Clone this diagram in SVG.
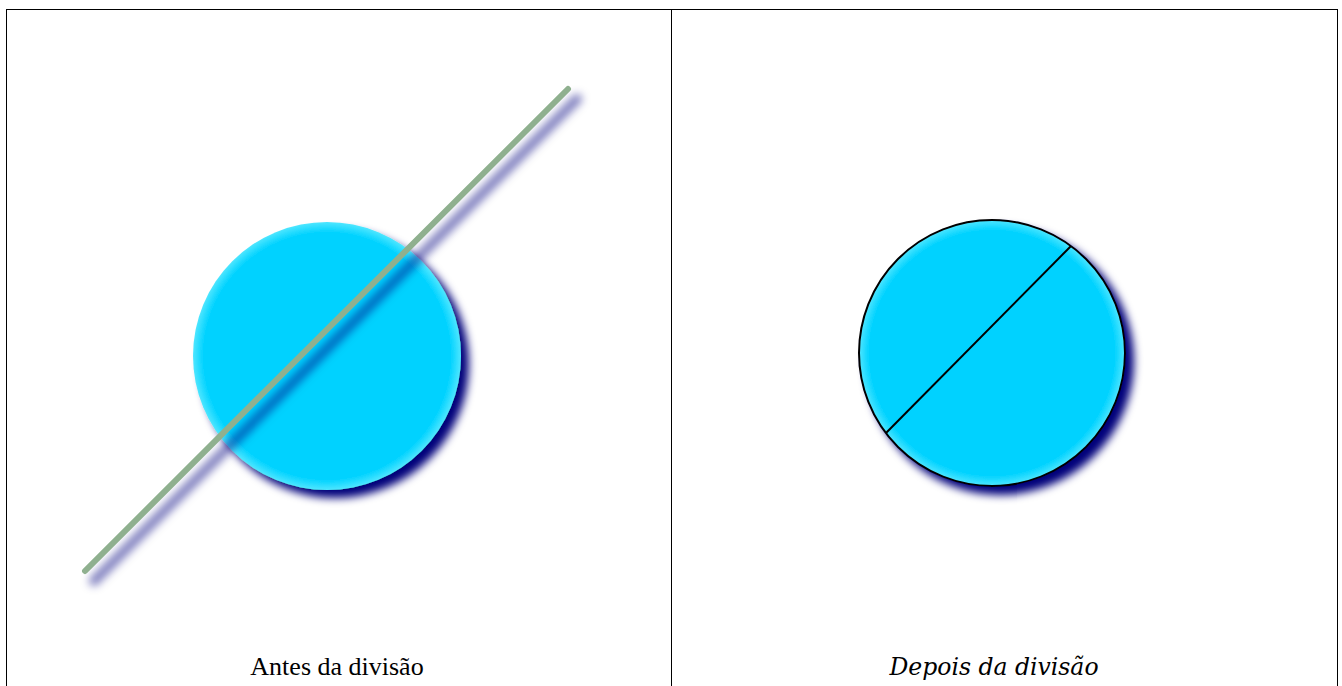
<svg xmlns="http://www.w3.org/2000/svg" width="1342" height="686" viewBox="0 0 1342 686">
  <style>
    .frame { stroke: #000; stroke-width: 1; fill: none; }
    .caption { fill: #000; text-anchor: middle; }
    .cap-left { font-family: "Liberation Serif", "Times New Roman", serif; font-size: 26px; }
    .cap-right { font-family: "DejaVu Serif", serif; font-style: italic; font-size: 23.5px; }
    .disc { fill: url(#cyanFill); filter: url(#discShadow); }
  </style>
  <defs>
    <radialGradient id="cyanFill" cx="0.5" cy="0.5" r="0.5">
      <stop offset="0" stop-color="#00d2ff"/>
      <stop offset="0.92" stop-color="#00d2ff"/>
      <stop offset="1" stop-color="#4ee6ff"/>
    </radialGradient>
    <filter id="discShadow" x="-20%" y="-20%" width="150%" height="150%">
      <feGaussianBlur in="SourceAlpha" stdDeviation="4.5" result="b"/>
      <feOffset in="b" dx="8" dy="8" result="o"/>
      <feFlood flood-color="#00007a"/>
      <feComposite in2="o" operator="in" result="s"/>
      <feMerge><feMergeNode in="s"/><feMergeNode in="SourceGraphic"/></feMerge>
    </filter>
    <filter id="lineShadow" x="-20%" y="-20%" width="140%" height="140%">
      <feGaussianBlur stdDeviation="4.5"/>
    </filter>
  </defs>

  <g id="frame">
    <line class="frame" x1="6" y1="9.5" x2="1338" y2="9.5"/>
    <line class="frame" x1="6.5" y1="9" x2="6.5" y2="686"/>
    <line class="frame" x1="671.5" y1="9" x2="671.5" y2="686"/>
    <line class="frame" x1="1337.5" y1="9" x2="1337.5" y2="686"/>
  </g>

  <g id="before">
    <circle class="disc" cx="327" cy="356" r="134"/>
    <line x1="94" y1="581" x2="577" y2="99" stroke="#000080" stroke-opacity="0.5" stroke-width="10" stroke-linecap="round" filter="url(#lineShadow)"/>
    <line x1="85" y1="571" x2="568" y2="89" stroke="#8fb08f" stroke-width="6" stroke-linecap="round"/>
    <text class="caption cap-left" x="337" y="675">Antes da divisão</text>
  </g>

  <g id="after">
    <circle class="disc" cx="992" cy="353" r="133" stroke="#000" stroke-width="2"/>
    <line x1="1071" y1="246" x2="886" y2="433" stroke="#000" stroke-width="2"/>
    <text class="caption cap-right" x="994" y="675">Depois da divisão</text>
  </g>
</svg>
